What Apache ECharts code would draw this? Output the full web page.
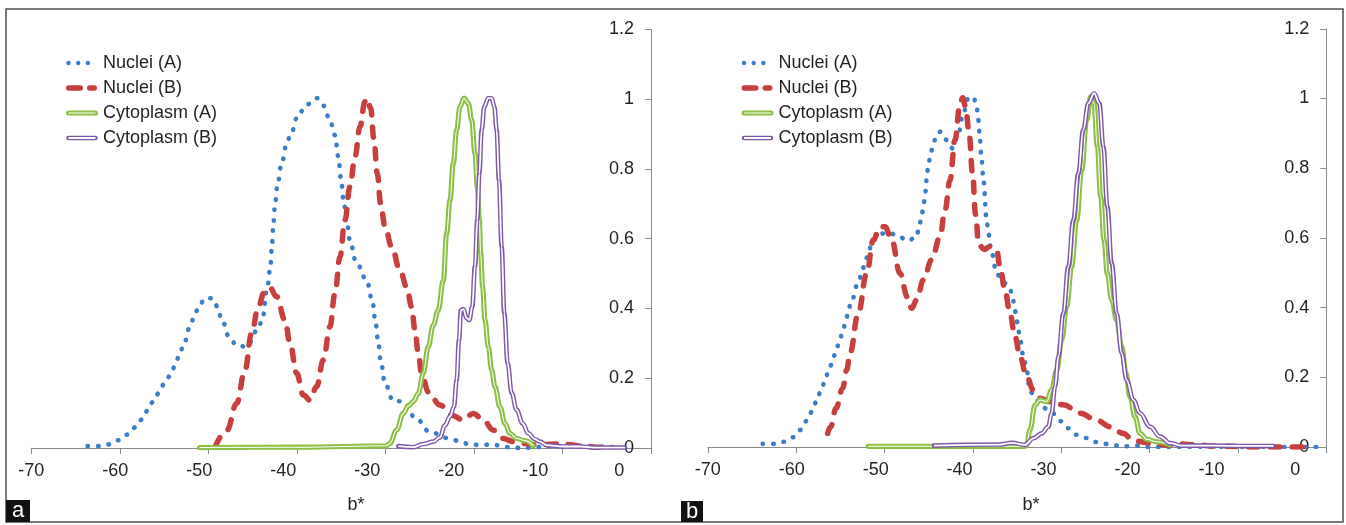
<!DOCTYPE html>
<html>
<head>
<meta charset="utf-8">
<script src="https://cdn.jsdelivr.net/npm/echarts@6/dist/echarts.min.js"></script>
<style>
html,body{margin:0;padding:0;background:#fff;}
#chart{width:1346px;height:525px;}
</style>
</head>
<body>
<div id="chart"></div>
<script>
// ---------- DATA (x = b*, y = normalised frequency) ----------
const seriesNames = ['Nuclei (A)', 'Nuclei (B)', 'Cytoplasm (A)', 'Cytoplasm (B)'];
const panelLabels = ['a', 'b'];
const xAxisTitle = 'b*';

// Panel a
const aNucleiA = [[-63.3,0.005],[-62.0,0.005],[-60.8,0.010],[-59.6,0.022],[-58.6,0.038],[-57.6,0.059],[-56.8,0.082],[-56.2,0.106],[-55.5,0.132],[-54.8,0.158],[-54.2,0.183],[-53.4,0.209],[-52.9,0.235],[-52.4,0.264],[-51.9,0.293],[-51.1,0.348],[-50.6,0.377],[-50.1,0.404],[-49.3,0.429],[-48.4,0.429],[-47.8,0.404],[-47.4,0.372],[-46.4,0.317],[-45.6,0.295],[-44.4,0.290],[-43.0,0.340],[-42.5,0.369],[-41.9,0.460],[-41.55,0.516],[-41.35,0.577],[-41.2,0.636],[-41.0,0.692],[-40.7,0.754],[-40.2,0.816],[-39.6,0.872],[-39.1,0.902],[-38.2,0.957],[-37.2,0.985],[-36.0,1.003],[-35.2,0.981],[-34.4,0.936],[-33.85,0.897],[-33.45,0.835],[-33.13,0.773],[-32.85,0.715],[-32.46,0.654],[-32.06,0.594],[-31.35,0.534],[-30.1,0.483],[-29.4,0.424],[-29.05,0.367],[-28.73,0.309],[-28.37,0.245],[-27.9,0.185],[-26.9,0.135],[-25.7,0.133],[-24.2,0.084],[-22.5,0.045],[-20.2,0.027],[-19.0,0.019],[-17.8,0.010],[-16.5,0.008],[-15.2,0.010],[-14.0,0.006],[-12.8,0.0],[-11.6,0.0],[-10.2,0.001],[-9.0,0.004],[-7.8,0.005],[-5.3,0.006],[-2.5,0.004],[-0.4,0.002]];
const aNucleiB = [[-48.1,0.004],[-46.7,0.051],[-45.55,0.128],[-44.56,0.223],[-43.77,0.329],[-42.97,0.405],[-42.3,0.445],[-41.6,0.460],[-40.8,0.434],[-39.8,0.367],[-39.2,0.300],[-38.41,0.214],[-37.62,0.152],[-36.82,0.137],[-36.03,0.176],[-35.23,0.252],[-34.44,0.348],[-33.85,0.443],[-33.25,0.548],[-32.66,0.654],[-32.06,0.749],[-31.47,0.835],[-30.87,0.921],[-30.28,0.993],[-30.0,1.003],[-29.6,0.974],[-29.2,0.883],[-28.81,0.787],[-28.41,0.701],[-27.89,0.634],[-27.1,0.577],[-26.11,0.510],[-25.31,0.462],[-24.72,0.405],[-24.32,0.338],[-23.93,0.271],[-23.53,0.214],[-22.74,0.161],[-21.35,0.123],[-19.96,0.094],[-18.57,0.080],[-17.38,0.099],[-16.19,0.080],[-15.0,0.051],[-13.8,0.027],[-12.61,0.018],[-11.42,0.013],[-9.64,0.008],[-7.85,0.011],[-6.07,0.010],[-4.68,0.006],[-2.69,0.002],[-0.91,0.001]];
const aCytoA = [[-49.96,0.001],[-37.96,0.002],[-27.73,0.006],[-27.3,0.013],[-26.51,0.051],[-25.71,0.099],[-25.12,0.120],[-24.52,0.133],[-23.93,0.156],[-23.33,0.214],[-22.74,0.290],[-22.14,0.352],[-21.55,0.395],[-20.95,0.48],[-20.55,0.615],[-20.15,0.711],[-19.76,0.816],[-19.36,0.912],[-18.96,0.979],[-18.49,1.003],[-17.97,0.988],[-17.57,0.940],[-17.18,0.845],[-16.9,0.749],[-16.66,0.654],[-16.5,0.558],[-16.27,0.462],[-15.99,0.367],[-15.59,0.29],[-15.19,0.223],[-14.8,0.176],[-14.2,0.118],[-13.61,0.07],[-13.01,0.042],[-12.22,0.027],[-11.23,0.021],[-10.23,0.006]];
const aCytoB = [[-26.31,0.005],[-24.52,0.002],[-23.33,0.011],[-22.14,0.018],[-21.35,0.030],[-20.75,0.065],[-20.15,0.090],[-19.68,0.118],[-19.36,0.195],[-19.08,0.310],[-18.85,0.395],[-18.57,0.398],[-18.17,0.372],[-17.85,0.367],[-17.5,0.405],[-17.18,0.520],[-16.9,0.654],[-16.66,0.787],[-16.38,0.912],[-16.07,0.979],[-15.59,1.003],[-15.19,1.003],[-14.87,0.979],[-14.6,0.912],[-14.32,0.768],[-14.0,0.577],[-13.69,0.386],[-13.29,0.243],[-12.81,0.157],[-12.22,0.109],[-11.5,0.070],[-10.83,0.042],[-10.04,0.025],[-9.44,0.018],[-8.65,0.008],[-6.66,0.004],[-4.68,0.004],[-2.69,0.001],[0.68,0.001]];

// Panel b
const bNucleiA = [[-63.46,0.009],[-62.19,0.009],[-60.92,0.015],[-59.81,0.028],[-58.94,0.049],[-58.22,0.075],[-57.59,0.101],[-57.11,0.128],[-56.59,0.156],[-56.11,0.184],[-55.68,0.212],[-55.2,0.240],[-54.8,0.269],[-54.37,0.297],[-53.97,0.326],[-53.61,0.355],[-53.29,0.384],[-52.98,0.412],[-52.06,0.472],[-51.67,0.498],[-51.27,0.529],[-50.87,0.556],[-50.48,0.584],[-49.68,0.611],[-48.49,0.615],[-47.38,0.607],[-46.23,0.592],[-45.12,0.602],[-44.84,0.632],[-44.52,0.661],[-44.32,0.690],[-44.12,0.718],[-44.0,0.747],[-43.92,0.778],[-43.72,0.809],[-43.45,0.843],[-43.13,0.871],[-42.73,0.898],[-42.26,0.905],[-41.54,0.881],[-40.83,0.857],[-40.15,0.900],[-39.55,0.958],[-38.96,1.0],[-38.36,1.005],[-37.97,0.977],[-37.77,0.938],[-37.57,0.881],[-37.37,0.824],[-37.17,0.766],[-36.77,0.651],[-36.58,0.613],[-36.18,0.556],[-35.58,0.498],[-34.99,0.479],[-34.0,0.455],[-33.68,0.427],[-33.4,0.393],[-33.2,0.364],[-33.0,0.336],[-32.8,0.307],[-32.32,0.250],[-32.01,0.221],[-31.61,0.159],[-30.78,0.133],[-29.65,0.110],[-28.89,0.096],[-27.97,0.074],[-27.10,0.054],[-26.07,0.035],[-24.95,0.026],[-23.67,0.014],[-22.5,0.009],[-21.32,0.004],[-20.04,0.002],[-18.92,0.004],[-17.63,0.0],[-15.08,0.0],[-12.5,0.001],[-10.0,0.001],[-7.5,0.0],[-5.0,0.0],[-2.5,0.0],[0.0,0.0],[2.6,0.0]];
const bNucleiB = [[-55.72,0.039],[-55.36,0.058],[-54.73,0.111],[-53.93,0.168],[-53.45,0.221],[-53.06,0.269],[-52.07,0.384],[-51.07,0.498],[-50.28,0.594],[-49.48,0.632],[-48.89,0.632],[-48.09,0.594],[-47.1,0.498],[-46.23,0.431],[-45.71,0.398],[-45.11,0.422],[-44.32,0.479],[-43.33,0.537],[-42.33,0.603],[-41.74,0.680],[-41.14,0.766],[-40.55,0.881],[-39.95,0.986],[-39.63,1.002],[-39.27,0.975],[-38.86,0.898],[-38.45,0.783],[-38.09,0.667],[-37.73,0.581],[-37.07,0.567],[-36.38,0.575],[-35.58,0.565],[-35.19,0.517],[-34.59,0.450],[-34.0,0.384],[-33.4,0.317],[-32.8,0.259],[-32.01,0.202],[-31.21,0.164],[-30.42,0.140],[-29.23,0.130],[-27.64,0.121],[-25.65,0.097],[-23.67,0.077],[-22.08,0.058],[-20.49,0.039],[-19.3,0.018],[-17.38,0.012],[-15.33,0.006],[-13.8,0.009],[-11.75,0.006],[-9.71,0.003],[-7.66,0.002],[-5.1,0.0],[-2.55,0.0],[1.4,0.0]];
const bCytoA = [[-50.88,0.002],[-40.9,0.002],[-32.21,0.002],[-32.01,0.006],[-31.61,0.049],[-31.01,0.120],[-30.42,0.135],[-29.63,0.130],[-29.03,0.164],[-28.43,0.221],[-27.84,0.307],[-27.24,0.403],[-26.65,0.518],[-26.05,0.651],[-25.45,0.795],[-24.86,0.938],[-24.38,1.005],[-23.99,0.986],[-23.59,0.862],[-23.19,0.718],[-22.79,0.594],[-22.40,0.498],[-21.88,0.422],[-21.28,0.364],[-20.69,0.288],[-20.17,0.211],[-19.70,0.144],[-19.10,0.087],[-18.50,0.039],[-17.71,0.022],[-16.52,0.015],[-14.93,0.006]];
const bCytoB = [[-43.05,0.004],[-35.28,0.007],[-33.75,0.012],[-32.21,0.006],[-31.21,0.025],[-30.22,0.039],[-29.43,0.058],[-29.03,0.097],[-28.63,0.173],[-28.23,0.259],[-27.64,0.383],[-27.04,0.518],[-26.45,0.651],[-25.85,0.785],[-25.26,0.910],[-24.66,0.986],[-23.98,1.015],[-23.35,0.986],[-22.87,0.862],[-22.40,0.690],[-21.88,0.527],[-21.28,0.383],[-20.69,0.269],[-20.09,0.192],[-19.30,0.135],[-18.50,0.097],[-17.31,0.058],[-16.12,0.030],[-14.93,0.011],[-13.5,0.004],[-10.0,0.004],[-6.0,0.003],[-2.6,0.003]];

// ---------- STYLE ----------
const FONT = '"Liberation Sans", Arial, sans-serif';
const FS = 18;
const TXT = '#231f20';
const AXIS = '#8a8a8a';
const BLUE = '#3a7dc9', RED = '#c7403d', GREEN = '#8dbf44', PURPLE = '#7d58a9';

const ICON_DOTS = 'path://M0,0 M32,6 M0.3,3 a2.2,2.2 0 1,0 4.4,0 a2.2,2.2 0 1,0 -4.4,0 M10,3 a2.2,2.2 0 1,0 4.4,0 a2.2,2.2 0 1,0 -4.4,0 M19.7,3 a2.2,2.2 0 1,0 4.4,0 a2.2,2.2 0 1,0 -4.4,0';
const ICON_DASH = 'path://M0,0 M32,6 M2.7,0.3 H14.3 A2.7,2.7 0 0,1 14.3,5.7 H2.7 A2.7,2.7 0 0,1 2.7,0.3 Z M23.7,0.3 H28.3 A2.7,2.7 0 0,1 28.3,5.7 H23.7 A2.7,2.7 0 0,1 23.7,0.3 Z';
const ICON_DBL_G = 'path://M0,0 M32,6 M2.5,0.4 H29.5 A2.6,2.6 0 0,1 29.5,5.6 H2.5 A2.6,2.6 0 0,1 2.5,0.4 Z M2.5,2.5 V3.5 H29.5 V2.5 Z';
const ICON_DBL_P = 'path://M0,0 M32,6 M2.5,0.8 H29.5 A2.2,2.2 0 0,1 29.5,5.2 H2.5 A2.2,2.2 0 0,1 2.5,0.8 Z M2.5,2.1 V3.9 H29.5 V2.1 Z';

function legendFor(left) {
  return {
    left: left, top: 54, orient: 'vertical', itemGap: 7,
    itemWidth: 32, itemHeight: 6, padding: 0,
    itemStyle: { borderWidth: 0 },
    textStyle: { fontFamily: FONT, fontSize: FS, color: TXT, lineHeight: 18 },
    selectedMode: false,
    data: [
      { name: seriesNames[0], icon: ICON_DOTS, itemStyle: { color: BLUE } },
      { name: seriesNames[1], icon: ICON_DASH, itemStyle: { color: RED } },
      { name: seriesNames[2], icon: ICON_DBL_G, itemStyle: { color: GREEN } },
      { name: seriesNames[3], icon: ICON_DBL_P, itemStyle: { color: PURPLE } }
    ]
  };
}

function line(name, data, xi, yi, ls, z) {
  return {
    type: 'line', name: name, data: data, xAxisIndex: xi, yAxisIndex: yi,
    showSymbol: false, symbol: 'none', smooth: 0.4, smoothMonotone: 'x',
    color: ls.color, lineStyle: ls, z: z, animation: false, silent: true
  };
}

function panelSeries(nA, nB, cA, cB, xi, yi) {
  return [
    line(seriesNames[0], nA, xi, yi, { color: BLUE, width: 4.6, type: [0.5, 10], cap: 'round' }, 2),
    line(seriesNames[1], nB, xi, yi, { color: RED, width: 5.5, type: [10, 12], cap: 'round' }, 3),
    line(seriesNames[2], cA, xi, yi, { color: GREEN, width: 5.2, cap: 'round' }, 4),
    line('cytoA-inner', cA, xi, yi, { color: '#ffffff', width: 1.1 }, 5),
    line(seriesNames[3], cB, xi, yi, { color: PURPLE, width: 4.6, cap: 'round' }, 6),
    line('cytoB-inner', cB, xi, yi, { color: '#ffffff', width: 1.8 }, 7)
  ];
}

function labelAxis(gi, max) {
  return {
    type: 'value', gridIndex: gi, position: 'bottom', min: -70, max: max, interval: 10,
    axisLine: { show: true, onZero: false, lineStyle: { color: AXIS, width: 1 } },
    axisTick: { show: false },
    axisLabel: { margin: 14, showMaxLabel: false, fontFamily: FONT, fontSize: FS, color: TXT },
    splitLine: { show: false }
  };
}
function tickAxis(gi) {
  return {
    type: 'value', gridIndex: gi, position: 'bottom', min: -70, max: 0, interval: 10,
    axisLine: { show: false, onZero: false },
    axisTick: { show: true, length: 6, lineStyle: { color: AXIS, width: 1 } },
    axisLabel: { show: false },
    splitLine: { show: false }
  };
}
function yAxisFor(gi) {
  return {
    type: 'value', gridIndex: gi, position: 'right', min: 0, max: 1.2, interval: 0.2,
    axisLine: { show: true, onZero: false, lineStyle: { color: AXIS, width: 1 } },
    axisTick: { show: true, inside: true, length: 6, lineStyle: { color: AXIS, width: 1 } },
    axisLabel: { inside: true, margin: 17, fontFamily: FONT, fontSize: FS, color: TXT },
    splitLine: { show: false }
  };
}

const chart = echarts.init(document.getElementById('chart'), null, { renderer: 'canvas' });
chart.setOption({
  backgroundColor: '#ffffff',
  animation: false,
  grid: [
    { left: 31.3, top: 29.5, width: 619.8, height: 418.4 },
    { left: 707.8, top: 28.8, width: 618.4, height: 418.2 }
  ],
  xAxis: [labelAxis(0, 3.79), tickAxis(0), labelAxis(1, 3.68), tickAxis(1)],
  yAxis: [yAxisFor(0), yAxisFor(1)],
  legend: [legendFor(66), legendFor(741.5)],
  series: [].concat(
    panelSeries(aNucleiA, aNucleiB, aCytoA, aCytoB, 0, 0),
    panelSeries(bNucleiA, bNucleiB, bCytoA, bCytoB, 2, 1)
  ),
  graphic: [
    { type: 'rect', shape: { x: 6, y: 9, width: 1337, height: 513 }, style: { fill: 'none', stroke: '#4d4d4d', lineWidth: 1.5 }, silent: true },
    { type: 'rect', shape: { x: 6, y: 500, width: 24, height: 22 }, style: { fill: '#111111' }, silent: true },
    { type: 'text', x: 18, y: 511, style: { text: panelLabels[0], fill: '#ffffff', font: '22px ' + FONT, align: 'center', verticalAlign: 'middle' }, silent: true },
    { type: 'rect', shape: { x: 681, y: 501, width: 22, height: 21 }, style: { fill: '#111111' }, silent: true },
    { type: 'text', x: 692, y: 511.5, style: { text: panelLabels[1], fill: '#ffffff', font: '22px ' + FONT, align: 'center', verticalAlign: 'middle' }, silent: true },
    { type: 'text', x: 356, y: 505, style: { text: xAxisTitle, fill: TXT, font: FS + 'px ' + FONT, align: 'center', verticalAlign: 'middle' }, silent: true },
    { type: 'text', x: 1031, y: 505, style: { text: xAxisTitle, fill: TXT, font: FS + 'px ' + FONT, align: 'center', verticalAlign: 'middle' }, silent: true }
  ]
});
</script>
</body>
</html>
